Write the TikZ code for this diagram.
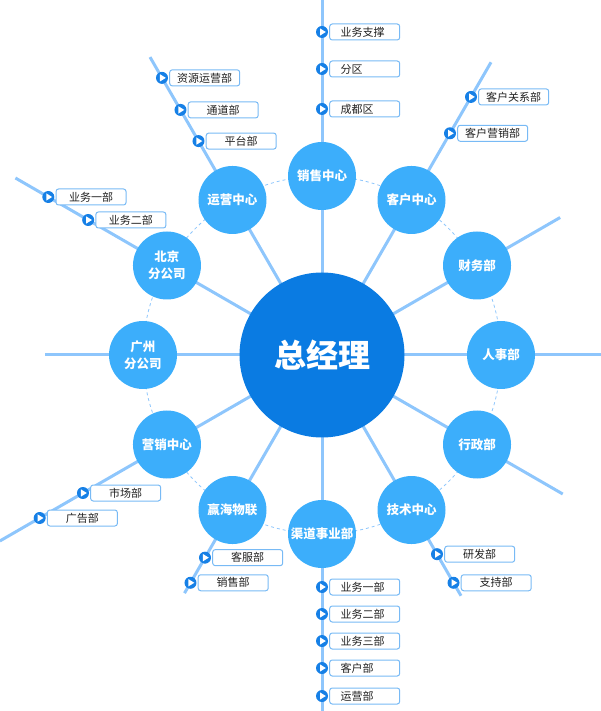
\documentclass[tikz,border=0pt]{standalone}
\usepackage{fontspec}
\setmainfont{Noto Sans CJK SC}
\usepackage{xcolor}
\usetikzlibrary{calc,positioning,backgrounds}
\definecolor{hubc}{HTML}{0A7BE2}
\definecolor{deptc}{HTML}{3CAEFB}
\definecolor{linec}{HTML}{8EC6FC}
\definecolor{dotc}{HTML}{1680E6}
\definecolor{boxc}{HTML}{78BAF5}
\definecolor{txtc}{HTML}{222222}
\tikzset{
  hub/.style={circle,fill=hubc,minimum size=165pt,inner sep=0pt,text=white,font=\bfseries\fontsize{32}{34}\selectfont},
  dept/.style={circle,fill=deptc,minimum size=68pt,inner sep=0pt,text=white,align=center,font=\bfseries\fontsize{12.5}{17}\selectfont},
  spoke/.style={linec,line width=3pt},
  ring/.style={linec,dashed,line width=0.8pt},
  playdot/.style={circle,fill=dotc,minimum size=12pt,inner sep=0pt,
    path picture={\fill[white] ($(path picture bounding box.center)+(-2pt,3.6pt)$) -- ++(5.8pt,-3.6pt) -- ++(-5.8pt,-3.6pt) -- cycle;}},
  subbox/.style={draw=boxc,line width=1pt,rounded corners=2.5pt,fill=white,minimum width=70pt,minimum height=16pt,inner sep=0pt,text=txtc,font=\fontsize{11}{12}\selectfont},
  subl/.style={subbox,text width=48pt,align=left}
}
\begin{document}
\begin{tikzpicture}[x=1pt,y=1pt]
\useasboundingbox (-322,-356) rectangle (278,355);
\node[hub] (gm) at (0,0) {总经理};
\foreach \a/\l/\t/\n in {90/360/销售中心/xs,60/338/客户中心/kh,30/275/财务部/cw,0/280/人事部/rs,
  -30/278/行政部/xz,-60/278/技术中心/js,-90/360/渠道事业部/qd,-120/275/赢海物联/yh,
  -150/372/营销中心/yx,180/277/{广州\\分公司}/gz,150/354/{北京\\分公司}/bj,120/344/运营中心/yy}{
  \node[dept] (\n) at (\a:179) {\t};
  \coordinate (\n-e) at (\a:\l);
}
\begin{pgfonlayer}{background}
\draw[ring] (gm.center) circle (179);
\foreach \n in {xs,kh,cw,rs,xz,js,qd,yh,yx,gz,bj,yy}
  \draw[spoke] (gm.center) -- (\n-e);
\end{pgfonlayer}
\foreach \a/\t/\s/\n in {90/323/业务支撑/xs1,90/286/分区/xs2,90/246/成都区/xs3,
  -90/232/业务一部/qd1,-90/259/业务二部/qd2,-90/286/业务三部/qd3,-90/313/客户部/qd4,-90/341/运营部/qd5}{
  \node[playdot] (\n) at (\a:\t) {};
  \node[subl,right=1pt of \n] (\n-b) {\s};
}
\foreach \a/\t/\s/\n in {120/320/资源运营部/yy1,120/283/通道部/yy2,120/247/平台部/yy3,
  150/316/业务一部/bj1,150/270/业务二部/bj2,60/298/客户关系部/kh1,60/256/客户营销部/kh2,
  -150/276/市场部/yx1,-150/326/广告部/yx2,-120/234/客服部/yh1,-120/263/销售部/yh2,
  -60/230/研发部/js1,-60/263/支持部/js2}{
  \node[playdot] (\n) at (\a:\t) {};
  \node[subbox,right=1pt of \n] (\n-b) {\s};
}
\end{tikzpicture}
\end{document}
